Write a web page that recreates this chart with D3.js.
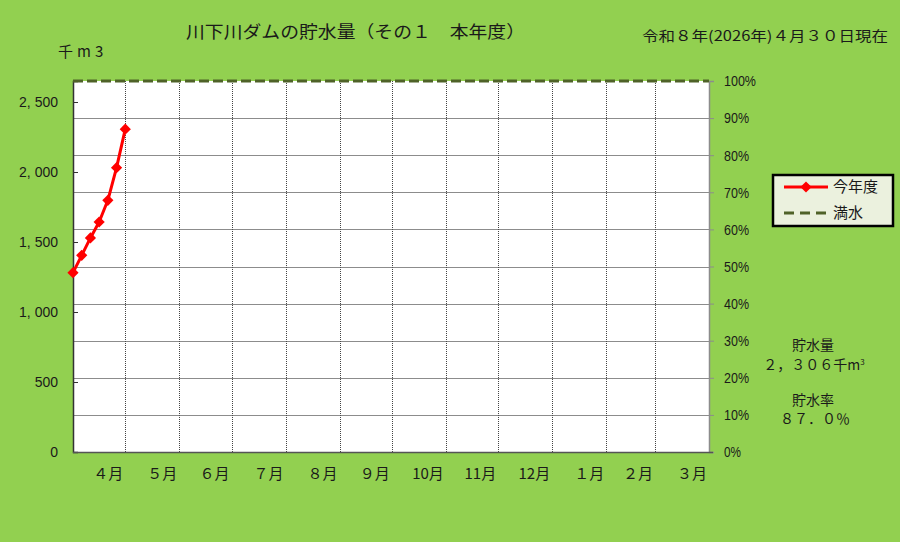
<!DOCTYPE html>
<html lang="ja">
<head>
<meta charset="UTF-8">
<title>川下川ダムの貯水量</title>
<script src="https://cdn.jsdelivr.net/npm/d3@7"></script>
<style>
	html, body { margin: 0; padding: 0; background: #92d050; }
	svg { display: block; font-family: "Noto Sans CJK JP", "Noto Sans", sans-serif; }
	text { fill: #1a1a1a; }
</style>
</head>
<body>
<svg id="chart" width="900" height="542"></svg>
<script>
// days since 4/1 (water year starts in April)
const days = [0, 5, 10, 15, 20, 25, 30];
const storage = [1281, 1405, 1529, 1643, 1798, 2031, 2306];
const fullStorage = 2650;
const monthLabels = ['４月', '５月', '６月', '７月', '８月', '９月', '10月', '11月', '12月', '１月', '２月', '３月'];
const monthLengths = [30, 31, 30, 31, 31, 30, 31, 30, 31, 31, 28, 31];
const leftTicks = [0, 500, 1000, 1500, 2000, 2500];
const pctTicks = [0, 10, 20, 30, 40, 50, 60, 70, 80, 90, 100];

const svg = d3.select('#chart');
const margin = { left: 73, right: 191, top: 81, bottom: 90 };
const width = 900 - margin.left - margin.right;
const height = 542 - margin.top - margin.bottom;

const g = svg.append('g')
	.attr('transform', 'translate(' + margin.left + ',' + margin.top + ')');

const yearDays = d3.sum(monthLengths);
const x = d3.scaleLinear([0, yearDays], [0, width]);
const y = d3.scaleLinear([0, fullStorage], [height, 0]);
const yPct = d3.scaleLinear([0, 100], [height, 0]);

const monthStarts = d3.cumsum([0].concat(monthLengths)).slice(0, 13);

// plot background
g.append('rect')
	.attr('width', width)
	.attr('height', height)
	.attr('fill', '#ffffff');

// horizontal grid at every 10%
g.append('g')
	.selectAll('line')
	.data(pctTicks.slice(1, -1))
	.enter().append('line')
	.attr('x1', 0)
	.attr('x2', width)
	.attr('y1', (d) => Math.round(yPct(d)) + 0.5)
	.attr('y2', (d) => Math.round(yPct(d)) + 0.5)
	.attr('stroke', '#8c8c8c')
	.attr('stroke-width', 1);

// vertical grid at month boundaries
g.append('g')
	.selectAll('line')
	.data(monthStarts.slice(1, -1))
	.enter().append('line')
	.attr('x1', (d) => Math.round(x(d)) + 0.5)
	.attr('x2', (d) => Math.round(x(d)) + 0.5)
	.attr('y1', 0)
	.attr('y2', height)
	.attr('stroke', '#444444')
	.attr('stroke-width', 1)
	.attr('stroke-dasharray', '1,1');

// left axis
const leftAxis = g.append('g')
	.call(d3.axisLeft(y).tickValues(leftTicks).tickSize(-5).tickPadding(15)
		.tickFormat((d) => d3.format(',')(d).replace(',', ', ')));
leftAxis.select('.domain').attr('stroke', '#333333').attr('stroke-width', 1.5);
leftAxis.selectAll('.tick line').attr('stroke', '#333333');
leftAxis.selectAll('text').attr('font-size', 14).attr('fill', '#1a1a1a');

// right axis in percent
const rightAxis = g.append('g')
	.attr('transform', 'translate(' + width + ',0)')
	.call(d3.axisRight(yPct).tickValues(pctTicks).tickSize(5).tickPadding(10)
		.tickFormat((d) => d + '%'));
rightAxis.select('.domain').attr('stroke', '#8c8c8c').attr('stroke-width', 1.5);
rightAxis.selectAll('.tick line').attr('stroke', '#8c8c8c');
rightAxis.selectAll('text').attr('font-size', 15).attr('fill', '#1a1a1a')
	.attr('textLength', (d) => d === 100 ? 32 : d === 0 ? 17 : 25)
	.attr('lengthAdjust', 'spacingAndGlyphs');

// bottom axis line
g.append('line')
	.attr('x1', 0)
	.attr('x2', width + 4)
	.attr('y1', height + 0.5)
	.attr('y2', height + 0.5)
	.attr('stroke', '#555555')
	.attr('stroke-width', 1.5);

// month labels, right aligned to the end of each month
g.append('g')
	.selectAll('text')
	.data(monthLabels)
	.enter().append('text')
	.attr('x', (d, i) => x(monthStarts[i + 1]) - 2)
	.attr('y', height + 27)
	.attr('text-anchor', 'end')
	.attr('font-size', 15)
	.text((d) => d);

// full water line
g.append('line')
	.attr('x1', 0)
	.attr('x2', width)
	.attr('y1', y(fullStorage))
	.attr('y2', y(fullStorage))
	.attr('stroke', '#4f6228')
	.attr('stroke-width', 3)
	.attr('stroke-dasharray', '10,4');

// this year's storage
const line = d3.line()
	.x((d, i) => x(days[i]))
	.y((d) => y(d));
g.append('path')
	.datum(storage)
	.attr('fill', 'none')
	.attr('stroke', '#ff0000')
	.attr('stroke-width', 3)
	.attr('stroke-linejoin', 'round')
	.attr('d', line);

const diamond = d3.symbol().type(d3.symbolDiamond2).size(80);
g.append('g')
	.selectAll('path')
	.data(storage)
	.enter().append('path')
	.attr('transform', (d, i) => 'translate(' + x(days[i]) + ',' + y(d) + ')')
	.attr('d', diamond)
	.attr('fill', '#ff0000');

// titles
svg.append('text')
	.attr('x', 186)
	.attr('y', 38)
	.attr('font-size', 17)
	.attr('textLength', 339)
	.attr('lengthAdjust', 'spacingAndGlyphs')
	.text('川下川ダムの貯水量（その１　本年度）');

svg.append('text')
	.attr('x', 888)
	.attr('y', 41)
	.attr('text-anchor', 'end')
	.attr('font-size', 14)
	.attr('textLength', 246)
	.attr('lengthAdjust', 'spacingAndGlyphs')
	.text('令和８年(2026年)４月３０日現在');

svg.append('text')
	.attr('x', 58)
	.attr('y', 57)
	.attr('font-size', 15)
	.attr('letter-spacing', 4)
	.text('千m3');

// legend
const legend = svg.append('g').attr('transform', 'translate(773,175)');
legend.append('rect')
	.attr('width', 120)
	.attr('height', 51)
	.attr('fill', '#ebf1de')
	.attr('stroke', '#000000')
	.attr('stroke-width', 2.5);
legend.append('line')
	.attr('x1', 11).attr('x2', 55).attr('y1', 12).attr('y2', 12)
	.attr('stroke', '#ff0000').attr('stroke-width', 3);
legend.append('path')
	.attr('transform', 'translate(33,12)')
	.attr('d', diamond)
	.attr('fill', '#ff0000');
legend.append('line')
	.attr('x1', 11).attr('x2', 55).attr('y1', 38).attr('y2', 38)
	.attr('stroke', '#4f6228').attr('stroke-width', 3)
	.attr('stroke-dasharray', '10,6');
legend.append('text').attr('x', 60).attr('y', 17).attr('font-size', 15).text('今年度');
legend.append('text').attr('x', 60).attr('y', 43).attr('font-size', 15).text('満水');

// current status
const last = storage[storage.length - 1];
const rate = last / fullStorage * 100;
const toWide = (s) => s.replace(/[0-9.,%]/g, (c) => String.fromCharCode(c.charCodeAt(0) + 0xFEE0));
const info = svg.append('g').attr('font-size', 14).attr('text-anchor', 'middle');
info.append('text').attr('x', 813).attr('y', 350).text('貯水量');
const vol = info.append('text').attr('x', 814).attr('y', 370);
vol.append('tspan').text(toWide(d3.format(',')(last)) + '千m');
vol.append('tspan').attr('font-size', 8).attr('dy', -5).text('3');
info.append('text').attr('x', 813).attr('y', 405).text('貯水率');
info.append('text').attr('x', 815).attr('y', 424).text(toWide(rate.toFixed(1) + '%'));
</script>
</body>
</html>
